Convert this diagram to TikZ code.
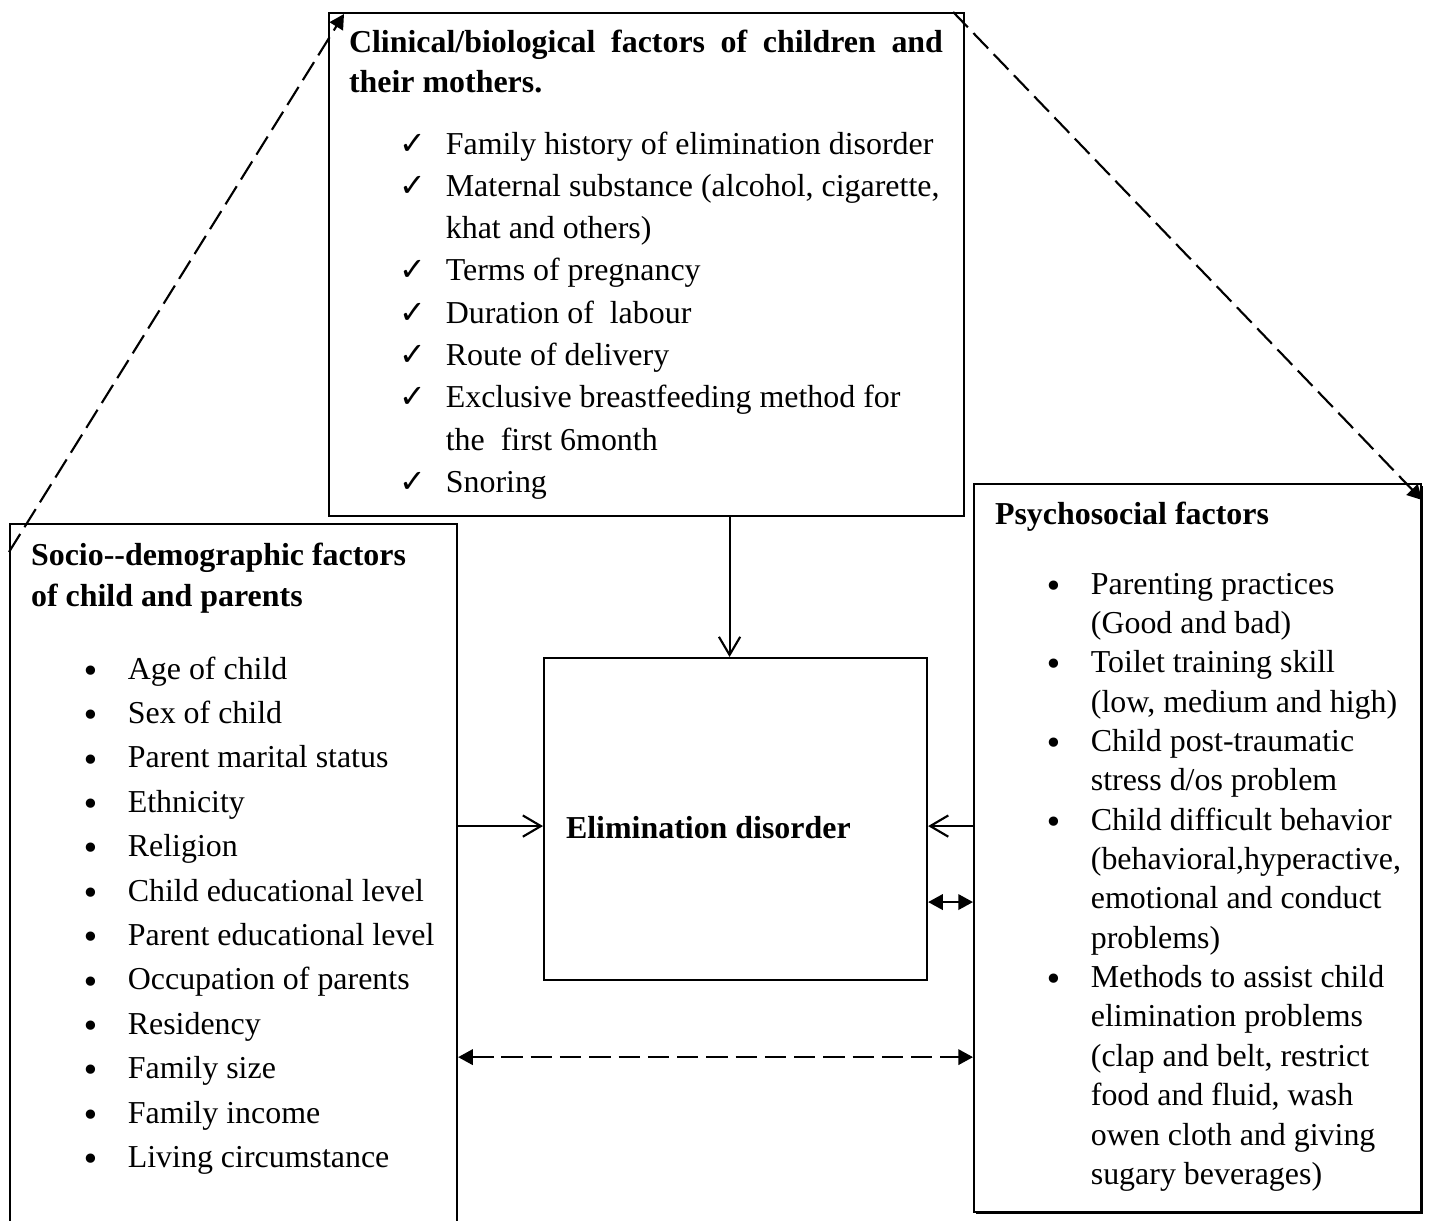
\documentclass[tikz,border=0pt]{standalone}
\usepackage{amsmath, amssymb}
\usepackage{fontspec}
\setmainfont{Liberation Serif}
\newfontfamily\symfont{DejaVu Sans}
\usetikzlibrary{arrows.meta, positioning, shadows}

\newcommand{\px}{0.376pt}
\newcommand{\chk}{{\symfont ✓}}
\newcommand{\blt}{\raisebox{-1.2pt}{\symfont •}}

\begin{document}
\begin{tikzpicture}[x=\px, y=-\px, line width=0.8pt,
		box/.style={draw, anchor=north west, inner sep=0pt},
		txt/.style={anchor=base west, inner sep=0pt, font=\fontsize{12}{15.4}\selectfont},
		openarr/.style={-{Straight Barb[length=6.8pt,width=8pt]}},
		headarr/.style={-{Triangle[length=5.5pt,width=5.8pt]}},
		bothheads/.style={{Triangle[length=5.5pt,width=5.8pt]}-{Triangle[length=5.5pt,width=5.8pt]}},
		linkdash/.style={dash pattern=on 8pt off 3pt}]
		\useasboundingbox (0,0) rectangle (1429,1221);
		% boxes
		\node[box, minimum width=635*\px, minimum height=503*\px] (clin) at (328,12) {};
		\node[box, minimum width=447*\px, minimum height=780*\px] (socio) at (9,523) {};
		\node[box, fill=white, minimum width=447*\px, minimum height=728*\px,
			drop shadow={shadow xshift=0.7pt, shadow yshift=-0.7pt, opacity=1, fill=black}] (psy) at (973,483) {};
		\node[box, minimum width=383*\px, minimum height=322*\px] (elim) at (543,657) {};
		% clinical box
		\node[txt] (clinhead) at ([shift={(20,40)}]clin.north west)
		{\begin{tabular}[t]{@{}p{223.3pt}@{}}
				\bfseries Clinical/biological factors of children and\linebreak their mothers.
		\end{tabular}};
		\node[txt, font=\fontsize{12}{15.9}\selectfont] (clinlist) at ([shift={(70,142)}]clin.north west)
		{\begin{tabular}[t]{@{}p{17.6pt}@{}l@{}}
				\chk & Family history of elimination disorder \\
				\chk & Maternal substance (alcohol, cigarette, \\
				& khat and others) \\
				\chk & Terms of pregnancy \\
				\chk & Duration of\ \ labour \\
				\chk & Route of delivery \\
				\chk & Exclusive breastfeeding method for \\
				& the\ \ first 6month \\
				\chk & Snoring
		\end{tabular}};
		% socio-demographic box
		\node[txt, font=\fontsize{12}{15.6}\selectfont] (sociohead) at ([shift={(21,42)}]socio.north west)
		{\begin{tabular}[t]{@{}l@{}}
				\bfseries Socio-{}-demographic factors \\
				\bfseries of child and parents
		\end{tabular}};
		\node[txt, font=\fontsize{12}{16.7}\selectfont] (sociolist) at ([shift={(71,156)}]socio.north west)
		{\begin{tabular}[t]{@{}p{17.6pt}@{}l@{}}
				\blt & Age of child \\
				\blt & Sex of child \\
				\blt & Parent marital status \\
				\blt & Ethnicity \\
				\blt & Religion \\
				\blt & Child educational level \\
				\blt & Parent educational level \\
				\blt & Occupation of parents \\
				\blt & Residency \\
				\blt & Family size \\
				\blt & Family income \\
				\blt & Living circumstance
		\end{tabular}};
		% psychosocial box
		\node[txt, font=\bfseries\fontsize{12}{13.5}\selectfont] (psyhead) at ([shift={(21,41)}]psy.north west) {Psychosocial factors};
		\node[txt, font=\fontsize{12}{14.8}\selectfont] (psylist) at ([shift={(70,111)}]psy.north west)
		{\begin{tabular}[t]{@{}p{17.6pt}@{}l@{}}
				\blt & Parenting practices \\
				& (Good and bad) \\
				\blt & Toilet training skill \\
				& (low, medium and high) \\
				\blt & Child post-traumatic \\
				& stress d/os problem \\
				\blt & Child difficult behavior \\
				& (behavioral,hyperactive, \\
				& emotional and conduct \\
				& problems) \\
				\blt & Methods to assist child \\
				& elimination problems \\
				& (clap and belt, restrict \\
				& food and fluid, wash \\
				& owen cloth and giving \\
				& sugary beverages)
		\end{tabular}};
		% outcome box
		\node[txt, font=\bfseries\fontsize{12}{13.5}\selectfont] (elimtext) at ([shift={(22,181)}]elim.north west) {Elimination disorder};
		% links
		\draw[openarr] ([shift={(-6,0)}]elim.north |- clin.south) -- ([shift={(-6,0)}]elim.north);
		\draw[openarr] ([shift={(0,7)}]socio.east |- elim.west) -- ([shift={(0,7)}]elim.west);
		\draw[openarr] ([shift={(0,7)}]psy.west |- elim.east) -- ([shift={(0,7)}]elim.east);
		\draw[bothheads] ([shift={(0,83)}]elim.east) -- ([shift={(0,83)}]psy.west |- elim.east);
		\coordinate (lowlink) at ([shift={(0,76)}]elim.south);
		\draw[bothheads, linkdash] (socio.east |- lowlink) -- (psy.west |- lowlink);
		\draw[headarr, linkdash] ([shift={(0,29)}]socio.north west) -- ([shift={(16,2)}]clin.north west);
		\draw[headarr, linkdash] ([shift={(-12,0)}]clin.north east) -- ([shift={(0,17)}]psy.north east);
	\end{tikzpicture}
\end{document}
